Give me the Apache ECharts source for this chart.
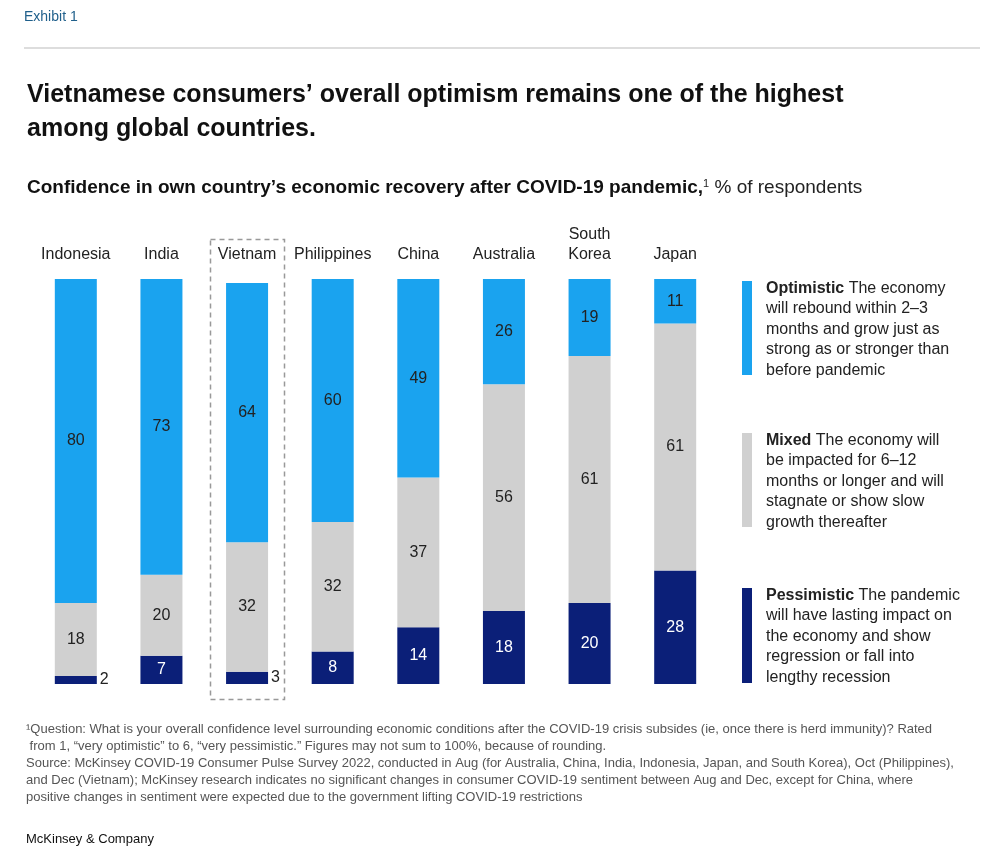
<!DOCTYPE html>
<html>
<head>
<meta charset="utf-8">
<script src="https://cdn.jsdelivr.net/npm/echarts@6/dist/echarts.min.js"></script>
<style>html,body{margin:0;padding:0;background:#fff}#chart{width:1000px;height:865px}</style>
</head>
<body>
<div id="chart"></div>
<script>
// Data
var countries = ['Indonesia', 'India', 'Vietnam', 'Philippines', 'China', 'Australia', 'South\nKorea', 'Japan'];
var pessimistic = [2, 7, 3, 8, 14, 18, 20, 28];
var mixed = [18, 20, 32, 32, 37, 56, 61, 61];
var optimistic = [80, 73, 64, 60, 49, 26, 19, 11];

var FONT = '"Liberation Sans", Arial, sans-serif';
var chart = echarts.init(document.getElementById('chart'));

// small values get their label outside the bar
var pessData = pessimistic.map(function (v) {
    if (v < 5) {
        return { value: v, label: { position: 'right', color: '#222', distance: 3 } };
    }
    return v;
});

var footnote = [
    '¹Question: What is your overall confidence level surrounding economic conditions after the COVID-19 crisis subsides (ie, once there is herd immunity)? Rated',
    ' from 1, “very optimistic” to 6, “very pessimistic.” Figures may not sum to 100%, because of rounding.',
    'Source: McKinsey COVID-19 Consumer Pulse Survey 2022, conducted in Aug (for Australia, China, India, Indonesia, Japan, and South Korea), Oct (Philippines),',
    'and Dec (Vietnam); McKinsey research indicates no significant changes in consumer COVID-19 sentiment between Aug and Dec, except for China, where',
    'positive changes in sentiment were expected due to the government lifting COVID-19 restrictions'
].join('\n');

function legendItem(y, h, color, head, body) {
    return [
        { type: 'rect', left: 742, top: y, shape: { width: 10, height: h }, style: { fill: color } },
        {
            type: 'text', left: 766, top: y - 3,
            style: {
                text: '{b|' + head + '}' + body,
                font: '16px ' + FONT, fill: '#222', lineHeight: 20.5,
                rich: { b: { font: 'bold 16px ' + FONT, fill: '#222', lineHeight: 20.5 } }
            }
        }
    ];
}

chart.setOption({
    animation: false,
    textStyle: { fontFamily: FONT },
    grid: { left: 33, width: 685, top: 279, bottom: 181 },
    xAxis: {
        type: 'category', position: 'top', data: countries,
        axisLine: { show: false }, axisTick: { show: false },
        axisLabel: { color: '#222', fontSize: 16, margin: 14, lineHeight: 20, interval: 0 }
    },
    yAxis: { type: 'value', min: 0, max: 100, show: false, splitLine: { show: false } },
    series: [
        {
            name: 'Pessimistic', type: 'bar', stack: 'all', barWidth: 42, data: pessData,
            itemStyle: { color: '#0b1f78' },
            label: { show: true, position: 'inside', color: '#fff', fontSize: 16 }
        },
        {
            name: 'Mixed', type: 'bar', stack: 'all', barWidth: 42, data: mixed,
            itemStyle: { color: '#d0d0d0' },
            label: { show: true, position: 'inside', color: '#222', fontSize: 16 }
        },
        {
            name: 'Optimistic', type: 'bar', stack: 'all', barWidth: 42, data: optimistic,
            itemStyle: { color: '#1aa3ef' },
            label: { show: true, position: 'inside', color: '#222', fontSize: 16 }
        }
    ],
    graphic: [
        { type: 'text', left: 24, top: 10, style: { text: 'Exhibit 1', font: '14px ' + FONT, fill: '#1f5f8b' } },
        { type: 'line', shape: { x1: 24, y1: 48, x2: 980, y2: 48 }, style: { stroke: '#bbb', lineWidth: 1 } },
        {
            type: 'text', left: 27, top: 78,
            style: {
                text: 'Vietnamese consumers’ overall optimism remains one of the highest\namong global countries.',
                font: 'bold 25px ' + FONT, fill: '#111', lineHeight: 34
            }
        },
        {
            type: 'text', left: 27, top: 178,
            style: {
                text: '{b|Confidence in own country’s economic recovery after COVID-19 pandemic,}{s|1} % of respondents',
                font: '19px ' + FONT, fill: '#222',
                rich: {
                    b: { font: 'bold 19px ' + FONT, fill: '#111' },
                    s: { font: '11px ' + FONT, fill: '#222', verticalAlign: 'top', padding: [0, 0, 8, 0] }
                }
            }
        },
        {
            type: 'rect', left: 208, top: 237, shape: { width: 74, height: 460 },
            style: { fill: 'none', stroke: '#999', lineWidth: 1.5, lineDash: [5, 4] }
        }
    ]
    .concat(legendItem(281, 94, '#1aa3ef', 'Optimistic', ' The economy\nwill rebound within 2–3\nmonths and grow just as\nstrong as or stronger than\nbefore pandemic'))
    .concat(legendItem(433, 94, '#d0d0d0', 'Mixed', ' The economy will\nbe impacted for 6–12\nmonths or longer and will\nstagnate or show slow\ngrowth thereafter'))
    .concat(legendItem(588, 95, '#0b1f78', 'Pessimistic', ' The pandemic\nwill have lasting impact on\nthe economy and show\nregression or fall into\nlengthy recession'))
    .concat([
        { type: 'text', left: 26, top: 721, style: { text: footnote, font: '13px ' + FONT, fill: '#555', lineHeight: 17 } },
        { type: 'text', left: 26, top: 833, style: { text: 'McKinsey & Company', font: '13px ' + FONT, fill: '#111' } }
    ])
});

window.addEventListener('resize', function () { chart.resize(); });
</script>
</body>
</html>
